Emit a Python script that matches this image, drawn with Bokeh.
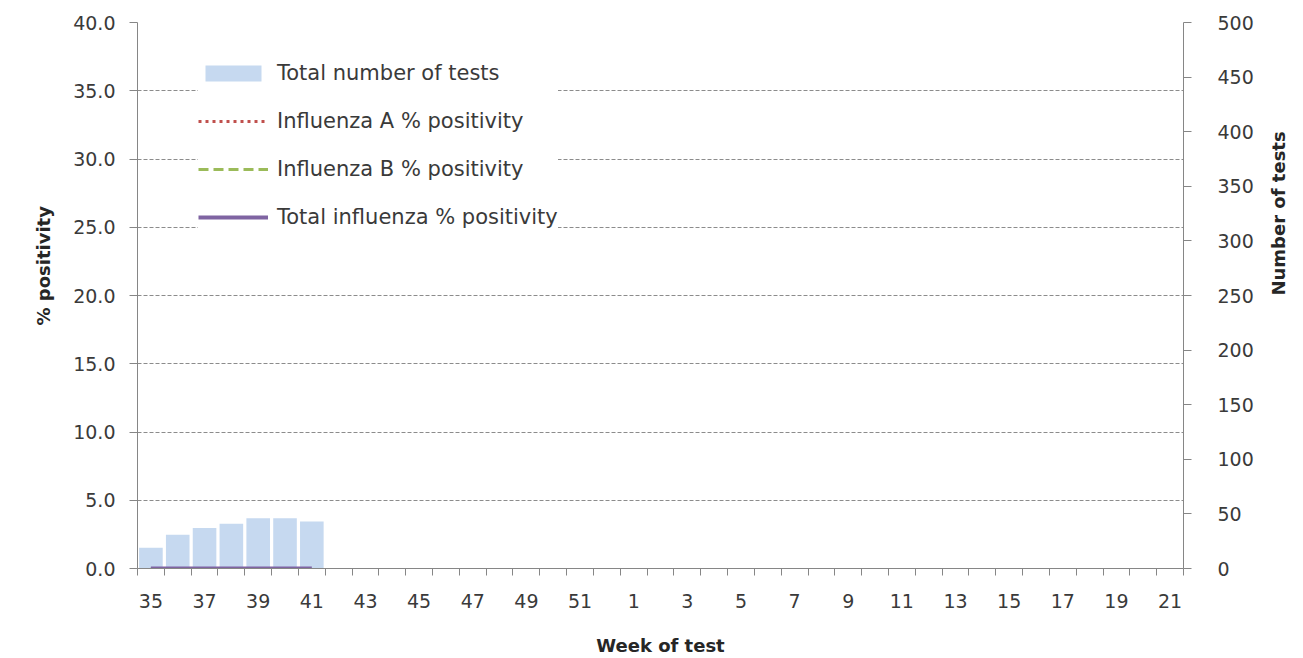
import math
from bokeh.plotting import figure
from bokeh.models import (Range1d, LinearAxis, FixedTicker, Legend, LegendItem,
                          NumeralTickFormatter, ColumnDataSource, Title)
from bokeh.embed import file_html
from bokeh.resources import INLINE

# ---- data ----
weeks = ["35", "36", "37", "38", "39", "40", "41", "42", "43", "44", "45", "46",
         "47", "48", "49", "50", "51", "52", "1", "2", "3", "4", "5", "6", "7",
         "8", "9", "10", "11", "12", "13", "14", "15", "16", "17", "18", "19",
         "20", "21"]
data_weeks = ["35", "36", "37", "38", "39", "40", "41"]
total_tests = [19, 31, 37, 41, 46, 46, 43]
flu_a_pos = [0.0, 0.0, 0.0, 0.0, 0.0, 0.0, 0.0]
flu_b_pos = [0.0, 0.0, 0.0, 0.0, 0.0, 0.0, 0.0]
flu_total_pos = [0.0, 0.0, 0.0, 0.0, 0.0, 0.0, 0.0]
labelled_weeks = ["35", "37", "39", "41", "43", "45", "47", "49", "51", "1", "3",
                  "5", "7", "9", "11", "13", "15", "17", "19", "21"]

FONT = "DejaVu Sans"
TXT = "#3a3a3a"
AX = "#868686"
TITLE = "#262626"

xs = [weeks.index(w) for w in data_weeks]
src = ColumnDataSource(dict(x=xs, tests=total_tests, a=flu_a_pos, b=flu_b_pos, t=flu_total_pos))

p = figure(width=1303, height=658, output_backend="svg", toolbar_location=None,
           x_range=Range1d(-0.5, len(weeks) - 0.5), y_range=Range1d(0, 40),
           min_border_left=137, min_border_right=120, min_border_top=22, min_border_bottom=85)
p.outline_line_color = None
p.background_fill_color = "white"
p.extra_y_ranges = {"tests": Range1d(0, 500)}

# bars
bars = p.vbar(x="x", top="tests", width=0.88, source=src, y_range_name="tests",
              fill_color="#c6d9f0", line_color=None)
# lines
la = p.line("x", "a", source=src, line_color="#c0504d", line_width=3, line_dash="3 4")
lb = p.line("x", "b", source=src, line_color="#9bbb59", line_width=3, line_dash="10 5")
lt = p.line("x", "t", source=src, line_color="#7f64a2", line_width=4)

# x axis
xa = p.xaxis[0]
maj = [weeks.index(w) for w in labelled_weeks]
xa.ticker = FixedTicker(ticks=maj, minor_ticks=[i - 0.5 for i in range(len(weeks) + 1)])
xa.major_label_overrides = {weeks.index(w): w for w in labelled_weeks}
xa.major_tick_out = 0
xa.major_tick_in = 0
xa.minor_tick_out = 7
xa.minor_tick_in = 0
xa.minor_tick_line_color = AX
xa.major_label_standoff = 18
xa.axis_label = "Week of test"
xa.axis_label_standoff = 24

# left axis
ya = p.yaxis[0]
ya.ticker = FixedTicker(ticks=[0, 5, 10, 15, 20, 25, 30, 35, 40])
ya.formatter = NumeralTickFormatter(format="0.0")
ya.major_tick_out = 8
ya.major_tick_in = 0
ya.minor_tick_out = 0
ya.minor_tick_in = 0
ya.major_label_standoff = 14

# right axis
ra = LinearAxis(y_range_name="tests", axis_label="Number of tests",
                ticker=FixedTicker(ticks=list(range(0, 501, 50))))
ra.major_tick_out = 8
ra.major_tick_in = 0
ra.minor_tick_out = 0
ra.minor_tick_in = 0
ra.major_label_standoff = 26
ra.axis_label_standoff = 22
ra.axis_label_orientation = math.pi / 2
p.add_layout(ra, "right")

for ax in [xa, ya, ra]:
    ax.axis_line_color = AX
    ax.major_tick_line_color = AX
    ax.major_label_text_font = FONT
    ax.major_label_text_font_size = "19px"
    ax.major_label_text_color = TXT
    ax.axis_label_text_font = FONT
    ax.axis_label_text_font_size = "18px"
    ax.axis_label_text_font_style = "bold"
    ax.axis_label_text_color = TITLE

# left axis title, placed a little above centre as in the original
ltitle = Title(text="% positivity", align="left", offset=243, standoff=34,
               text_font=FONT, text_font_size="18px", text_font_style="bold",
               text_color=TITLE)
p.add_layout(ltitle, "left")

p.xgrid.grid_line_color = None
p.ygrid.grid_line_color = "#8c8c8c"
p.ygrid.grid_line_dash = "4 2"
p.ygrid.grid_line_width = 1
p.ygrid.ticker = FixedTicker(ticks=[5, 10, 15, 20, 25, 30, 35, 40])

legend = Legend(items=[
    LegendItem(label="Total number of tests", renderers=[bars]),
    LegendItem(label="Influenza A % positivity", renderers=[la]),
    LegendItem(label="Influenza B % positivity", renderers=[lb]),
    LegendItem(label="Total influenza % positivity", renderers=[lt]),
], location=(61, 339))
legend.glyph_width = 70
legend.glyph_height = 20
legend.label_height = 20
legend.spacing = 24
legend.padding = 12
legend.margin = 0
legend.label_standoff = 9
legend.label_text_font = FONT
legend.label_text_font_size = "21px"
legend.label_text_color = TXT
legend.border_line_color = None
legend.background_fill_color = "white"
legend.background_fill_alpha = 1.0
p.add_layout(legend)

open("out.html", "w").write(file_html(p, INLINE))
